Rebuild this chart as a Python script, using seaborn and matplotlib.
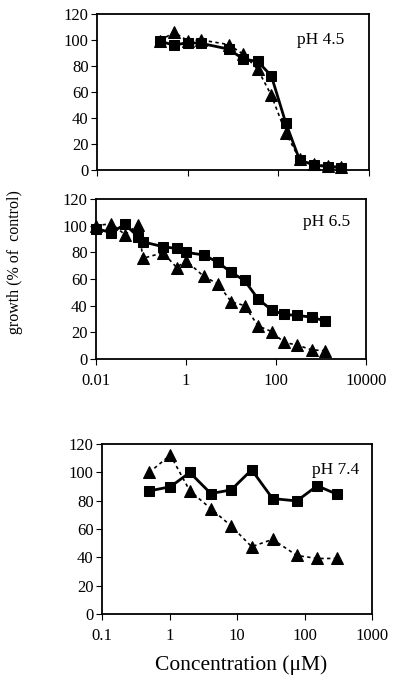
import numpy as np
import pandas as pd
import matplotlib
matplotlib.use("Agg")
import matplotlib.pyplot as plt
from matplotlib.ticker import FixedLocator, FixedFormatter, NullLocator
import seaborn as sns

# ---- data ----
# pH 4.5
x45_sq = [0.25, 0.5, 1, 2, 8, 17, 35, 70, 145, 295, 600, 1230, 2400]
y45_sq = [99, 96, 98, 97.4, 93, 85.3, 83.5, 72.5, 36.5, 7.7, 3.9, 2.6, 1.8]
x45_tr = [0.25, 0.5, 1, 2, 8, 17, 35, 70, 145, 295, 600, 1230, 2400]
y45_tr = [99.5, 106, 99.5, 100, 96.5, 89, 77.5, 57.5, 28.8, 8.2, 4.4, 3.1, 2.6]

# pH 6.5
x65 = [0.01, 0.022, 0.044, 0.087, 0.11, 0.31, 0.62, 1.0, 2.5, 5.1, 10.2, 20,
       40, 81, 151, 289, 616, 1230]
y65_sq = [97.8, 94.8, 101, 91.6, 87.9, 84.2, 82.9, 80, 78, 72.5, 64.9, 58.9,
          45, 36.6, 33.4, 32.7, 31.4, 28.5]
y65_tr = [100, 101.5, 93.3, 100.7, 75.5, 79.7, 68.6, 73.8, 61.9, 56.4, 42.8,
          40.1, 24.8, 20.5, 12.4, 10.6, 6.9, 6.2]

# pH 7.4
x74 = [0.5, 1.03, 2.0, 4.1, 8.2, 16.5, 33.6, 77, 154, 302]
y74_sq = [86.9, 89.8, 99.9, 85, 87.6, 101.8, 81.5, 79.8, 90.5, 84.6]
y74_tr = [99.9, 112.2, 86.9, 74.4, 62.1, 47.5, 52.7, 41.3, 39.2, 39.2]

yticks = [0, 20, 40, 60, 80, 100, 120]
xticks_top = [0.01, 1, 100, 10000]
xticklabels_mid = ["0.01", "1", "100", "10000"]
xticks_bot = [0.1, 1, 10, 100, 1000]
xticklabels_bot = ["0.1", "1", "10", "100", "1000"]
panel_labels = ["pH 4.5", "pH 6.5", "pH 7.4"]

# ---- style ----
sns.set_theme(style="white")
plt.rcParams['font.family'] = ['Liberation Serif', 'DejaVu Serif']

W, H = 400, 685
fig = plt.figure(figsize=(W / 100, H / 100), dpi=100)
fig.patch.set_facecolor("white")


def px_axes(left, top, right, bottom):
    return fig.add_axes([left / W, (H - bottom) / H, (right - left) / W, (bottom - top) / H])


ax1 = px_axes(97, 14, 369, 170)
ax2 = px_axes(96, 199, 366, 359)
ax3 = px_axes(102, 444, 372, 614)


def draw(ax, xs, ys, xt, yt):
    sq = pd.DataFrame({"x": xs, "y": ys})
    tr = pd.DataFrame({"x": xt, "y": yt})
    sns.lineplot(data=tr, x="x", y="y", ax=ax, color="black", lw=1.2,
                 linestyle=(0, (2, 2)), marker="^", markersize=8,
                 markeredgecolor="black", markerfacecolor="black",
                 clip_on=False, zorder=3)
    sns.lineplot(data=sq, x="x", y="y", ax=ax, color="black", lw=2.0,
                 marker="s", markersize=7, markeredgecolor="black",
                 markerfacecolor="black", clip_on=False, zorder=4)


draw(ax1, x45_sq, y45_sq, x45_tr, y45_tr)
draw(ax2, x65, y65_sq, x65, y65_tr)
draw(ax3, x74, y74_sq, x74, y74_tr)

label_pos = [(0.908, 0.833), (0.94, 0.856), (0.952, 0.847)]
for ax, lab, xlim, pos in [(ax1, panel_labels[0], (0.01, 10000), label_pos[0]),
                           (ax2, panel_labels[1], (0.01, 10000), label_pos[1]),
                           (ax3, panel_labels[2], (0.1, 1000), label_pos[2])]:
    ax.set_xscale("log")
    ax.set_xlim(*xlim)
    ax.set_ylim(0, 120)
    ax.yaxis.set_major_locator(FixedLocator(yticks))
    ax.set_yticklabels([str(v) for v in yticks])
    ax.xaxis.set_minor_locator(NullLocator())
    ax.set_xlabel("")
    ax.set_ylabel("")
    for s in ax.spines.values():
        s.set_color("black")
        s.set_linewidth(1.3)
        s.set_visible(True)
    ax.tick_params(axis="both", which="major", direction="out", length=4,
                   width=0.8, color="black", labelsize=12, labelcolor="black",
                   bottom=True, left=True, pad=2)
    ax.text(pos[0], pos[1], lab, transform=ax.transAxes, ha="right", va="center",
            fontsize=12.5, color="black")
    ax.set_facecolor("white")

ax1.xaxis.set_major_locator(FixedLocator(xticks_top))
ax1.xaxis.set_major_formatter(FixedFormatter(["", "", "", ""]))
ax2.xaxis.set_major_locator(FixedLocator(xticks_top))
ax2.xaxis.set_major_formatter(FixedFormatter(xticklabels_mid))
ax3.xaxis.set_major_locator(FixedLocator(xticks_bot))
ax3.xaxis.set_major_formatter(FixedFormatter(xticklabels_bot))
ax2.tick_params(axis="x", pad=6)
ax3.tick_params(axis="x", pad=6)

fig.text(15 / W, 1 - 262 / H, "growth (% of  control)", rotation=90,
         ha="center", va="center", fontsize=11.5, color="black")
fig.text(241 / W, 1 - 665 / H, "Concentration (\u03bcM)", ha="center",
         va="center", fontsize=15.5, color="black")

fig.savefig("out.png", dpi=100, facecolor="white")
